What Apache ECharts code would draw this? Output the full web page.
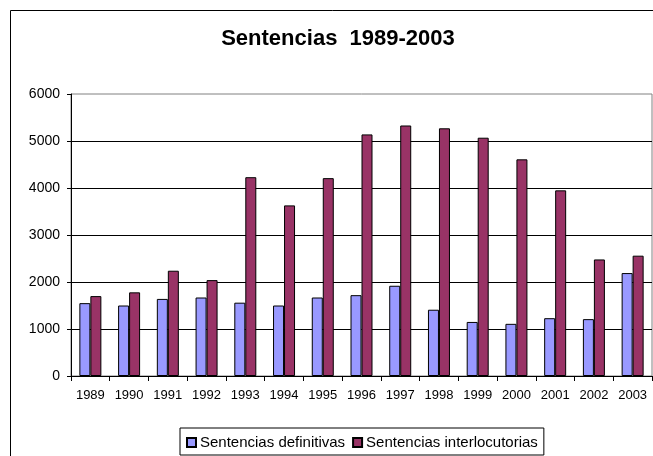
<!DOCTYPE html>
<html>
<head>
<meta charset="utf-8">
<title>Sentencias 1989-2003</title>
<script src="https://cdn.jsdelivr.net/npm/echarts@6/dist/echarts.min.js"></script>
<style>
  html, body { margin: 0; padding: 0; background: #fff; }
  #chart { width: 653px; height: 456px; }
</style>
</head>
<body>
<div id="chart"></div>
<script>
// Years on the category axis
var years = ['1989', '1990', '1991', '1992', '1993', '1994', '1995', '1996',
             '1997', '1998', '1999', '2000', '2001', '2002', '2003'];

// Final judgments per year
var definitivas = [1550, 1500, 1640, 1670, 1560, 1500, 1670, 1720,
                   1920, 1410, 1150, 1110, 1230, 1210, 2190];

// Interlocutory judgments per year
var interlocutorias = [1700, 1780, 2240, 2040, 4230, 3630, 4210, 5140,
                       5330, 5270, 5070, 4610, 3950, 2480, 2560];

// Value axis ticks
var yTicks = [0, 1000, 2000, 3000, 4000, 5000, 6000];

var TITLE = 'Sentencias  1989-2003';
var FONT = "'Liberation Sans', Arial, sans-serif";

var chart = echarts.init(document.getElementById('chart'), null, { renderer: 'canvas' });

chart.setOption({
  backgroundColor: '#ffffff',
  animation: false,
  graphic: [{
    // chart-area frame
    type: 'rect',
    shape: { x: 10.5, y: 10.5, width: 700, height: 500 },
    style: { fill: 'none', stroke: '#000', lineWidth: 1 },
    silent: true,
    z: 0
  }, {
    // chart title
    type: 'text',
    x: 338,
    y: 39,
    style: {
      text: TITLE,
      fontFamily: FONT,
      fontSize: 22,
      fontWeight: 'bold',
      fill: '#000',
      align: 'center',
      verticalAlign: 'middle'
    },
    silent: true,
    z: 10
  }],
  legend: {
    left: 180,
    top: 428,
    orient: 'horizontal',
    padding: [7, 6, 5, 6],
    itemGap: 7,
    itemWidth: 9,
    itemHeight: 9,
    icon: 'rect',
    borderColor: '#000',
    borderWidth: 1,
    backgroundColor: '#fff',
    textStyle: { fontFamily: FONT, fontSize: 15, color: '#000', padding: [0, 0, 0, -1] },
    data: ['Sentencias definitivas', 'Sentencias interlocutorias']
  },
  grid: {
    left: 71,
    top: 94,
    width: 581,
    height: 282,
    show: true,
    borderColor: '#808080',
    borderWidth: 1,
    containLabel: false
  },
  xAxis: {
    type: 'category',
    data: years,
    boundaryGap: true,
    axisLine: { show: true, lineStyle: { color: '#000', width: 1 } },
    axisTick: { show: true, interval: 0, length: 5, lineStyle: { color: '#000' } },
    axisLabel: { interval: 0, margin: 13, fontFamily: FONT, fontSize: 13, color: '#000' },
    splitLine: { show: false }
  },
  yAxis: {
    type: 'value',
    min: yTicks[0],
    max: yTicks[yTicks.length - 1],
    interval: yTicks[1] - yTicks[0],
    axisLine: { show: true, lineStyle: { color: '#000', width: 1 } },
    axisTick: { show: true, length: 4, lineStyle: { color: '#000' } },
    axisLabel: {
      margin: 11, fontFamily: FONT, fontSize: 14, color: '#000',
      formatter: function (v) { return String(v); }
    },
    splitLine: { show: true, showMaxLine: false, lineStyle: { color: '#000', width: 1 } }
  },
  series: [{
    name: 'Sentencias definitivas',
    type: 'bar',
    data: definitivas,
    barWidth: 11,
    barGap: '0%',
    itemStyle: { color: '#9999FF', borderColor: '#000', borderWidth: 1 }
  }, {
    name: 'Sentencias interlocutorias',
    type: 'bar',
    data: interlocutorias,
    barWidth: 11,
    barGap: '0%',
    itemStyle: { color: '#993366', borderColor: '#000', borderWidth: 1 }
  }]
});
</script>
</body>
</html>
